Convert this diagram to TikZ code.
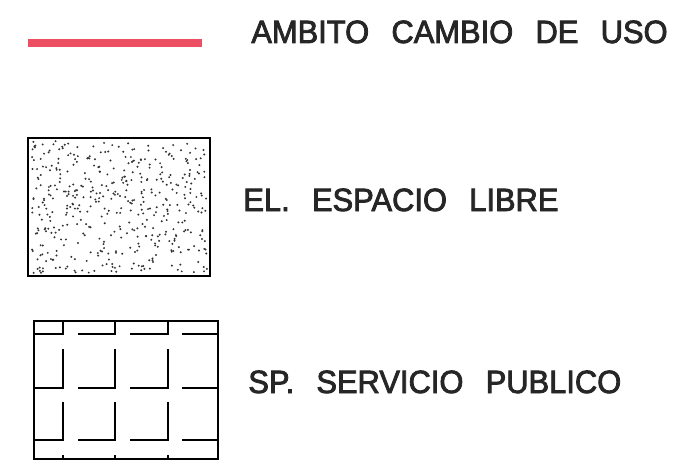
\documentclass[tikz,border=0pt]{standalone}
\usepackage{fontspec}
\usepackage{xcolor}
\usepackage{tikz}
\newfontfamily\legfont[FakeStretch=0.96,WordSpace=2.6,FakeBold=2.5]{Liberation Sans}
\definecolor{ambitored}{RGB}{236,78,98}

\begin{document}
\begin{tikzpicture}[x=0.2mm ,y=-0.2mm ,legtext/.style ={anchor=base west ,inner sep=0 ,text=black!85 ,font=\legfont\fontsize{18.3}{20}\selectfont} ,legbox/.style ={draw ,line width=1.2pt} ,hatch/.style ={line width=1.2pt}]
\useasboundingbox (0,0) rectangle (700,473);
% ambito cambio de uso
\coordinate (redA) at (28,43);
\coordinate (redB) at (202,43);
\draw[ambitored, line width=4.5pt] (redA) -- (redB);
\node[legtext] (ambito) at (251,43) {AMBITO CAMBIO DE USO};
% espacio libre
\pgfmathsetseed{42}
\foreach \i in {1,...,460}{
  \pgfmathsetmacro\dx{31+176*rnd}
  \pgfmathsetmacro\dy{141+132*rnd}
  \fill[black!80] (\dx,\dy) circle[radius=1.1];
}
\draw[legbox, line width=1.5pt] (28,138) rectangle (210,276);
\node[legtext] (libre) at (243,211) {EL. ESPACIO LIBRE};
% servicio publico
\draw[legbox] (34,321) rectangle (218,459);
\foreach \y/\t in {334/321, 388/349, 440/402}{
  \draw[hatch] (34,\y) -- (63,\y) -- (63,\t);
  \draw[hatch] (78,\y) -- (115,\y) -- (115,\t);
  \draw[hatch] (130,\y) -- (168,\y) -- (168,\t);
  \draw[hatch] (182,\y) -- (218,\y);
}
\foreach \x in {63,115,168}
  \draw[hatch] (\x,455) -- (\x,459);
\node[legtext] (publico) at (248,393) {SP. SERVICIO PUBLICO};
\end{tikzpicture}
\end{document}
